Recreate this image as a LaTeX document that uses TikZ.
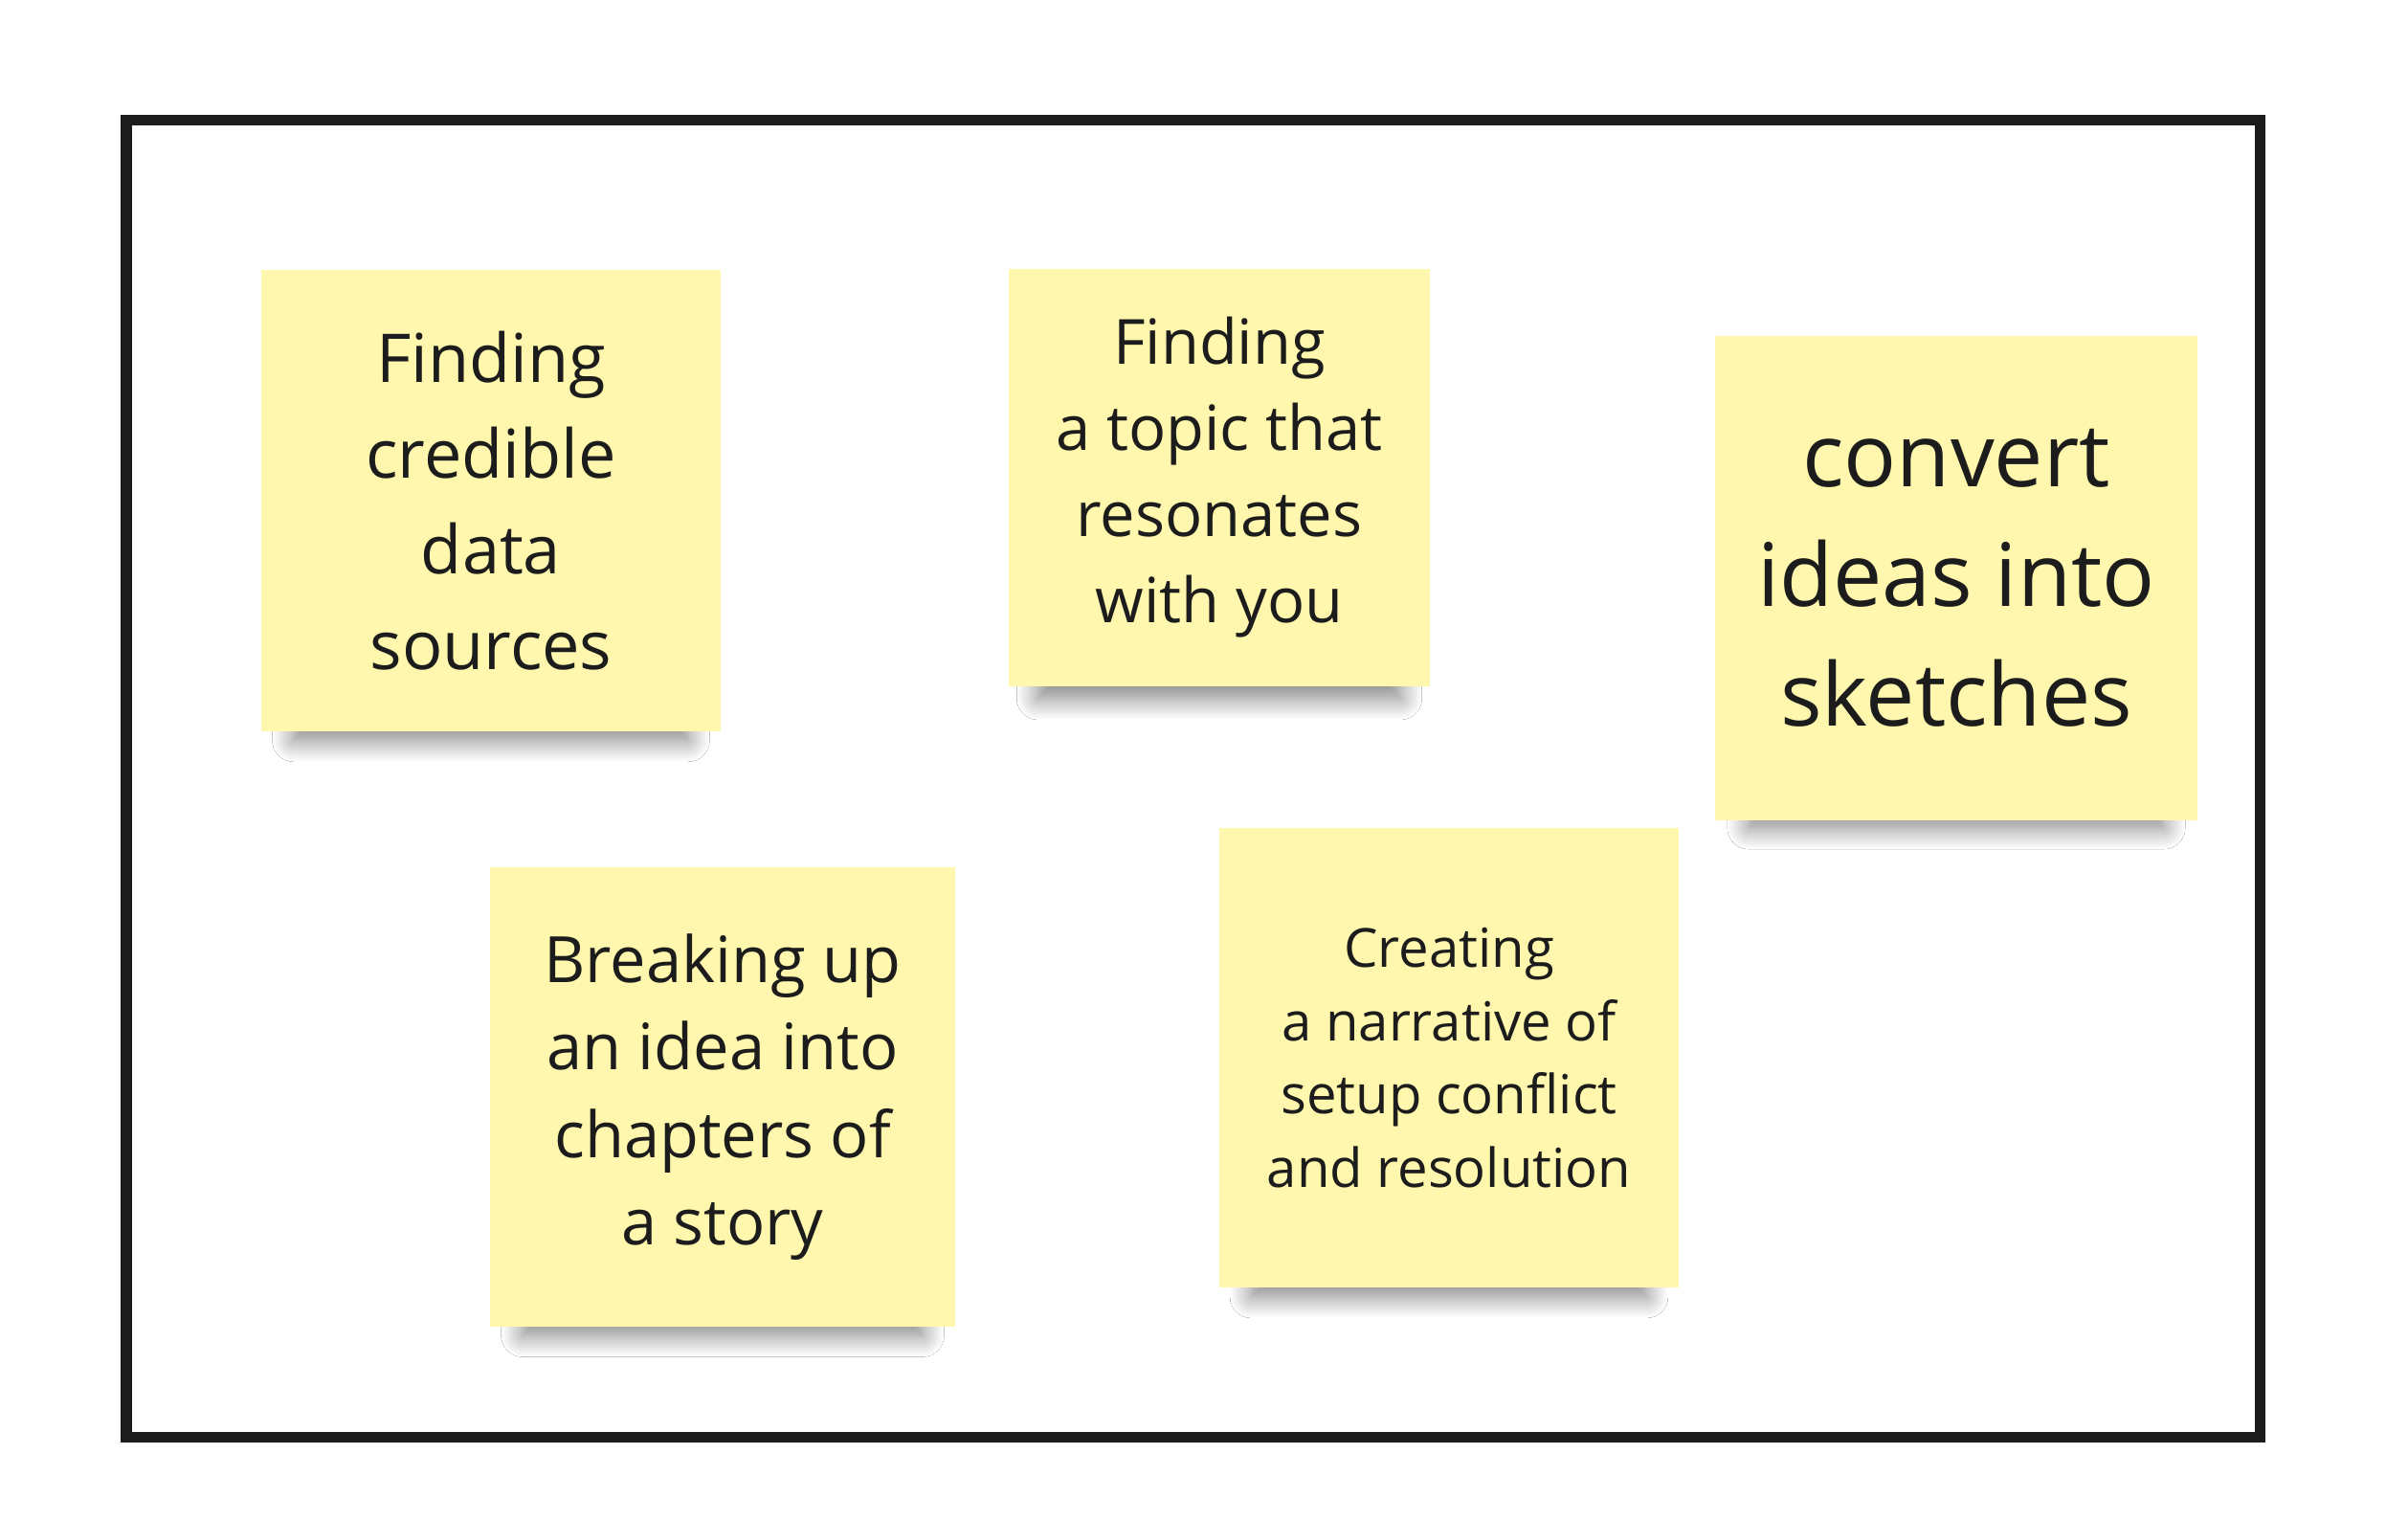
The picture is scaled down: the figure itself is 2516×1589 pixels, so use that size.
\documentclass[tikz,border=0pt]{standalone}
\usepackage{fontspec}
\setmainfont{Open Sans}
\usetikzlibrary{shadows.blur}
\definecolor{noteyellow}{HTML}{FFF7AD}
\definecolor{inkblack}{HTML}{1C1C1C}
\tikzset{
  frame/.style = {draw=inkblack, line width=0.11cm},
  sticky/.style = {rectangle, fill=noteyellow, text=inkblack, align=center, inner sep=0pt,
    blur shadow={shadow xshift=0pt, shadow yshift=-0.5cm, shadow scale=0.86,
      shadow blur radius=0.26cm, shadow opacity=50, shadow blur steps=16}},
  notesize/.style 2 args = {font=\fontsize{#1}{#2}\selectfont}
}

\begin{document}
\begin{tikzpicture}[x=0.01cm, y=-0.01cm]
\fill[white] (0,0) rectangle (2516,1589);
\useasboundingbox (0,0) rectangle (2516,1589);
\draw[frame] (132,126) rectangle (2361,1501);

\node[sticky, notesize={20pt}{28.5pt}, minimum width=4.79cm, minimum height=4.82cm] (sources) at (513,523) {Finding\\ credible\\ data\\ sources};
\node[sticky, notesize={18.5pt}{25.6pt}, minimum width=4.40cm, minimum height=4.36cm] (topic) at (1274,499) {Finding\\ a topic that\\ resonates\\ with you};
\node[sticky, notesize={26pt}{35.6pt}, minimum width=5.04cm, minimum height=5.06cm] (sketch) at (2044,604) {convert\\ ideas into\\ sketches};
\node[sticky, notesize={19pt}{26pt}, minimum width=4.86cm, minimum height=4.79cm] (chapters) at (755,1146) {Breaking up\\ an idea into\\ chapters of\\ a story};
\node[sticky, notesize={16pt}{21.8pt}, minimum width=4.80cm, minimum height=4.80cm] (narrative) at (1514,1105) {Creating\\ a narrative of\\ setup conflict\\ and resolution};
\end{tikzpicture}
\end{document}
